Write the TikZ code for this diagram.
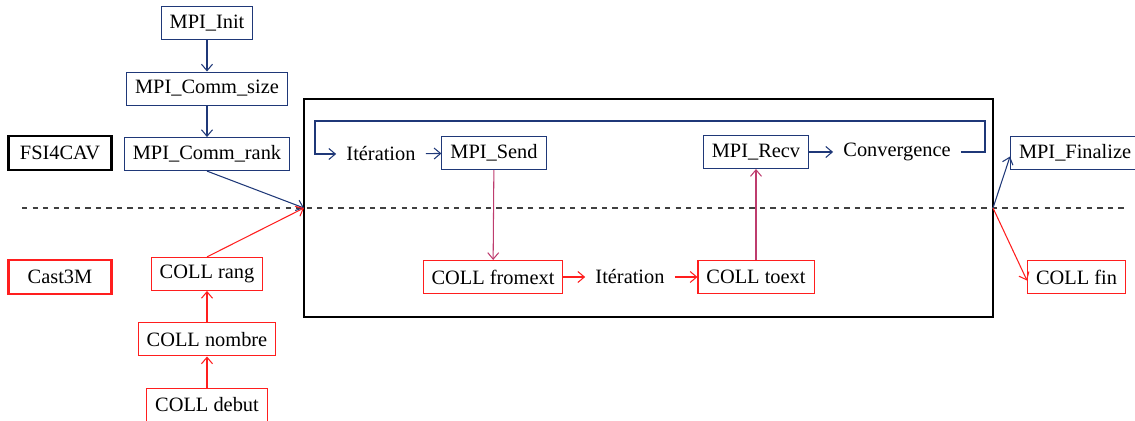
\documentclass[tikz,border=0pt]{standalone}
\usepackage{fontspec}
\setmainfont{Liberation Serif}
\usetikzlibrary{arrows.meta,positioning}
\definecolor{fsiblue}{RGB}{31,56,120}
\definecolor{castred}{RGB}{255,30,30}
\definecolor{linkpurple}{RGB}{190,60,110}

\begin{document}
\begin{tikzpicture}[x=0.02cm, y=-0.02cm, node distance=0.63cm,
    every node/.style={font=\fontsize{11.6}{13}\selectfont},
    bluebox/.style={draw=fsiblue, line width=0.6pt, minimum height=0.66cm, inner xsep=0.17cm},
    redbox/.style={draw=castred, line width=0.6pt, minimum height=0.66cm, inner xsep=0.17cm},
    codebox/.style={line width=1.2pt, minimum width=2.06cm, minimum height=0.68cm},
    plain/.style={inner xsep=0.2cm},
    bluearrow/.style={draw=fsiblue, line width=0.6pt, -{Straight Barb[length=1.3mm,width=2.2mm]}},
    redarrow/.style={draw=castred, line width=0.6pt, -{Straight Barb[length=1.3mm,width=2.2mm]}}]
        \useasboundingbox (0,0) rectangle (1135,421);
        % codes
        \node (fsi) [draw=black, codebox] at (60,153) {FSI4CAV};
        \node (cast) [draw=castred, codebox] at (60,277) {Cast3M};
        % FSI4CAV side
        \node (init) [bluebox] at (207,23) {MPI\_Init};
        \node (size) [bluebox, below=of init] {MPI\_Comm\_size};
        \node (rank) [bluebox, below=of size] {MPI\_Comm\_rank};
        % Cast3M side
        \node (debut) [redbox] at (207,405) {COLL debut};
        \node (nombre) [redbox, above=of debut] {COLL nombre};
        \node (rang) [redbox, above=of nombre] {COLL rang};
        % coupling loop
        \draw[line width=1pt] (304,99) rectangle (993,317);
        \draw[dashed, draw=black!75, line width=0.6pt] (22,208) -- (1125,208);
        \coordinate (jl) at (304,208);
        \coordinate (jr) at (993,208);
        \node (iterup) [plain] at (381,154) {Itération};
        \node (send) [bluebox] at (494,153) {MPI\_Send};
        \node (recv) [bluebox] at (756,152) {MPI\_Recv};
        \node (conv) [plain] at (897,152) {Convergence};
        \node (fromext) [redbox] at (493,277) {COLL fromext};
        \node (iterdown) [plain] at (630,277) {Itération};
        \node (toext) [redbox] at (756,277) {COLL toext};
        % end
        \node (final) [bluebox, anchor=west] at (1010,153) {MPI\_Finalize};
        \node (fin) [redbox, anchor=west] at (1027,277) {COLL fin};

        \draw[bluearrow] (init) -- (size);
        \draw[bluearrow] (size) -- (rank);
        \draw[bluearrow] (rank.south) -- (jl);
        \draw[redarrow] (debut) -- (nombre);
        \draw[redarrow] (nombre) -- (rang);
        \draw[redarrow] (rang.north) -- (jl);
        \draw[bluearrow] (conv.east) -- (985,152) -- (985,121) -- (315,121) |- (iterup.west);
        \draw[bluearrow] (iterup) -- (send);
        \draw[bluearrow] (recv) -- (conv);
        \draw[redarrow, draw=linkpurple] (send) -- (fromext);
        \draw[redarrow] (fromext) -- (iterdown);
        \draw[redarrow] (iterdown) -- (toext);
        \draw[redarrow, draw=linkpurple] (toext) -- (recv);
        \draw[bluearrow] (jr) -- ([yshift=-2pt]final.west);
        \draw[redarrow] (jr) -- ([yshift=-2pt]fin.west);
    \end{tikzpicture}
\end{document}
